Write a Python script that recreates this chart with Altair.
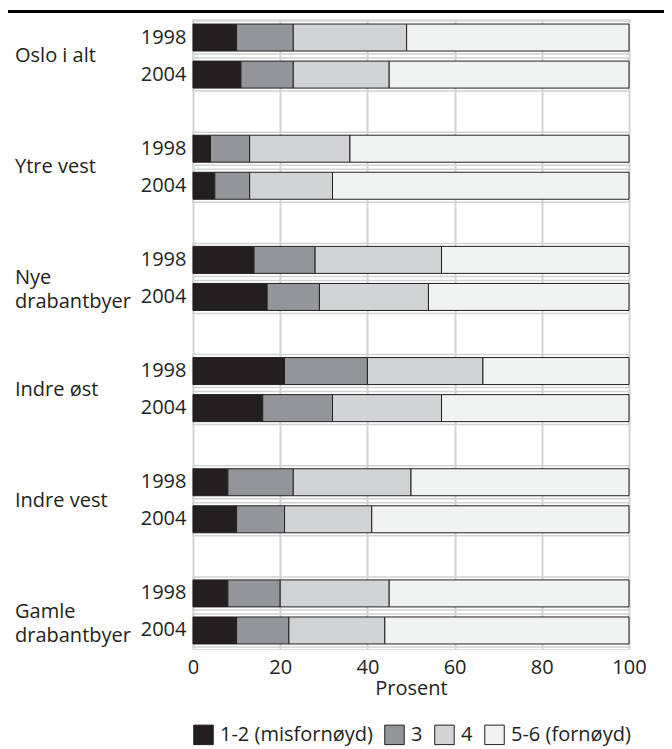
import altair as alt
import pandas as pd

groups = ["Oslo i alt", "Ytre vest", "Nye drabantbyer", "Indre øst", "Indre vest", "Gamle drabantbyer"]
group_text = ["Oslo i alt", "Ytre vest", "Nye\ndrabantbyer", "Indre øst", "Indre vest", "Gamle\ndrabantbyer"]
years = ["1998", "2004"]
levels = ["1-2 (misfornøyd)", "3", "4", "5-6 (fornøyd)"]
colors = ["#231f20", "#939598", "#d1d3d4", "#f1f2f2"]

# values per group, order: 1998, 2004
v12 = [10, 11, 4, 5, 14, 17, 21, 16, 8, 10, 8, 10]
v3 = [13, 12, 9, 8, 14, 12, 19, 16, 15, 11, 12, 12]
v4 = [26, 22, 23, 19, 29, 25, 26.5, 25, 27, 20, 25, 22]
v56 = [51, 55, 64, 68, 43, 46, 33.5, 43, 50, 59, 55, 56]
x_ticks = [0, 20, 40, 60, 80, 100]

rows = []
for i, g in enumerate(groups):
    rows.append(f"{g}|1998")
    rows.append(f"{g}|2004")
    if i < len(groups) - 1:
        rows.append(f"{g}|")

recs = []
outl = []
for i, g in enumerate(groups):
    for j, y in enumerate(years):
        k = i * 2 + j
        row = f"{g}|{y}"
        outl.append({"row": row, "x0": 0, "x1": 100})
        for li, (lev, vals) in enumerate(zip(levels, [v12, v3, v4, v56])):
            recs.append({"row": row, "level": lev, "ord": li, "value": vals[k]})
df = pd.DataFrame(recs)
df_out = pd.DataFrame(outl)
df_lab = pd.DataFrame({"row": [f"{g}|1998" for g in groups], "txt": group_text})
df_rule = pd.DataFrame({"a": [0]})

yscale = alt.Scale(domain=rows, paddingInner=0.27)
FONT = "Open Sans"
FS = 20

outline = alt.Chart(df_out).mark_bar(filled=False, stroke="#d1d3d4", strokeWidth=1.5, size=33).encode(
    x=alt.X("x0:Q"), x2="x1:Q",
    y=alt.Y("row:N", scale=yscale, sort=rows),
)

bars = alt.Chart(df).mark_bar(size=27, stroke="#231f20", strokeWidth=1).encode(
    x=alt.X("value:Q", stack="zero",
            scale=alt.Scale(domain=[0, 100], nice=False),
            axis=alt.Axis(values=x_ticks, title="Prosent", grid=True, gridColor="#d1d3d4",
                          gridWidth=2, domain=False, ticks=False, labelPadding=8,
                          labelFlush=False,
                          labelFontSize=FS, labelFont=FONT, labelColor="#231f20",
                          titleFontSize=FS, titleFont=FONT, titleFontWeight="normal",
                          titleColor="#231f20", titlePadding=1)),
    y=alt.Y("row:N", scale=yscale, sort=rows,
            axis=alt.Axis(title=None, domain=False, ticks=False, grid=False,
                          labelExpr="split(datum.label, '|')[1]", labelPadding=7,
                          labelFontSize=FS, labelFont=FONT, labelColor="#231f20")),
    color=alt.Color("level:N", scale=alt.Scale(domain=levels, range=colors),
                    legend=alt.Legend(title=None, orient="none", legendX=0, legendY=705,
                                      direction="horizontal", symbolType="square",
                                      symbolSize=380, symbolStrokeColor="#231f20",
                                      symbolStrokeWidth=1, labelFontSize=FS, labelFont=FONT,
                                      labelColor="#231f20", columnPadding=9, labelOffset=6,
                                      labelLimit=300)),
    order=alt.Order("ord:Q"),
)

labels = alt.Chart(df_lab).mark_text(align="left", baseline="middle", fontSize=FS, font=FONT,
                                     color="#231f20", lineBreak="\n", lineHeight=24,
                                     yOffset=18.5).encode(
    x=alt.value(-178),
    y=alt.Y("row:N", scale=yscale, sort=rows),
    text="txt:N",
)

rule = alt.Chart(df_rule).mark_rule(color="#000000", strokeWidth=3).encode(
    x=alt.value(-185), x2=alt.value(471), y=alt.value(-7.5)
)

chart = alt.layer(outline, bars, labels, rule).properties(
    width=436, height=630,
    autosize=alt.AutoSizeParams(type="none"),
    padding={"left": 185, "right": 35, "top": 11, "bottom": 100},
).configure_view(stroke=None).configure(background="white")

chart.save("out.html", embed_options={"renderer": "svg", "actions": False})
